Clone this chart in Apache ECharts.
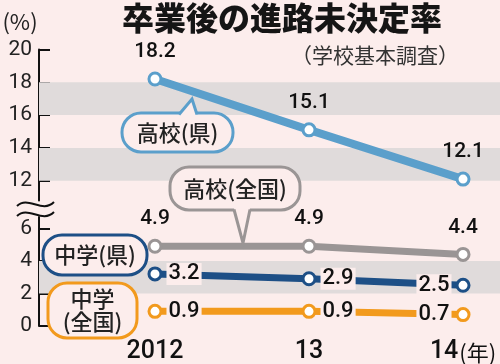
<!DOCTYPE html>
<html><head><meta charset="utf-8">
<script src="https://cdn.jsdelivr.net/npm/echarts@6/dist/echarts.min.js"></script>
<style>html,body{margin:0;padding:0;background:#fcedec;}#c{width:500px;height:364px;}</style>
</head><body><div id="c"></div>
<script>
// ---- data ----
const years = [2012, 2013, 2014];
const yearLabels = ['2012', '13', '14'];
const hsPref = [18.2, 15.1, 12.1];   // 高校(県)
const hsNat  = [4.9, 4.9, 4.4];      // 高校(全国)
const jhPref = [3.2, 2.9, 2.5];      // 中学(県)
const jhNat  = [0.9, 0.9, 0.7];      // 中学(全国)
const topTicks = [12, 14, 16, 18, 20];
const bottomTicks = [0, 2, 4, 6];
const topBands = [[12, 14], [16, 18]];
const bottomBands = [[2, 4]];

const BG = '#fcedec';
const BAND = '#e0dbdb';
const C_HSP = '#5b9fcb', C_HSN = '#9a9595', C_JHP = '#1d4f86', C_JHN = '#f29a1d';
const NUM = 'Roboto, "Noto Sans", sans-serif';
const JP = '"Noto Sans CJK JP", sans-serif';

const chart = echarts.init(document.getElementById('c'), null, {renderer: 'canvas'});

function pts(vals) { return years.map((y, i) => [y, vals[i]]); }
function jhData(vals) {
  const pos = ['right', 'right', 'left'];
  return years.map((y, i) => ({value: [y, vals[i]], label: {position: pos[i]}}));
}
const xMin = 2011.247, xMax = 2014.24;

function lineSeries(name, data, color, width, xi, labelCfg) {
  return {
    name, type: 'line', xAxisIndex: xi, yAxisIndex: xi, data, z: 5,
    symbol: 'circle', symbolSize: 12,
    lineStyle: {color, width},
    itemStyle: {color: '#fff', borderColor: color, borderWidth: 3},
    label: Object.assign({show: true, color: '#111', fontFamily: NUM, fontSize: 21, fontWeight: 500}, labelCfg),
    emphasis: {disabled: true}, animation: false
  };
}
function bandSeries(xi, bands) {
  return {
    type: 'line', xAxisIndex: xi, yAxisIndex: xi, data: [], z: 1, silent: true, animation: false,
    markArea: {silent: true, itemStyle: {color: BAND}, data: bands.map(b => [{yAxis: b[0]}, {yAxis: b[1]}])}
  };
}

const yCommon = {
  type: 'value', splitLine: {show: false},
  axisLine: {show: true, lineStyle: {color: '#111', width: 2}},
  axisTick: {show: true, inside: true, length: 11, lineStyle: {color: '#111', width: 2}},
  axisLabel: {color: '#222', fontFamily: NUM, fontSize: 21, margin: 7}
};

function callout(x, y, w, h, color, lines, ptr) {
  const els = [{
    type: 'rect', z: 50, shape: {x, y, width: w, height: h, r: 19},
    style: {fill: BG, stroke: color, lineWidth: 3}
  }];
  if (ptr) {
    els.push({type: 'polygon', z: 51, shape: {points: ptr.fill}, style: {fill: BG}});
    els.push({type: 'polyline', z: 52, shape: {points: ptr.line}, style: {stroke: color, lineWidth: 3, fill: null}});
  }
  const cx = x + w / 2;
  const lh = 23;
  const y0 = y + h / 2 - (lines.length - 1) * lh / 2;
  lines.forEach((t, i) => els.push({
    type: 'text', z: 53,
    style: {text: t, x: cx, y: y0 + i * lh, align: 'center', verticalAlign: 'middle',
      font: '500 22px ' + JP, fill: '#222'}
  }));
  return els;
}

const option = {
  backgroundColor: BG,
  animation: false,
  grid: [
    {left: 39, right: 0, top: 49.5, height: 150.9},
    {left: 39, right: 0, top: 216.95, height: 110.55}
  ],
  xAxis: [
    {type: 'value', gridIndex: 0, min: xMin, max: xMax, show: false},
    {type: 'value', gridIndex: 1, min: xMin, max: xMax, splitLine: {show: false},
     axisLine: {show: false}, axisTick: {show: false},
     axisLabel: {customValues: years, margin: 13, color: '#111',
       formatter: v => { const i = years.indexOf(Math.round(v)); return i === 2 ? '{a|' + yearLabels[i] + '}{b|(年)}' : '{a|' + yearLabels[i] + '}'; },
       rich: {a: {fontFamily: NUM, fontSize: 25, fontWeight: 500, color: '#111'},
              b: {fontFamily: JP, fontSize: 22, color: '#111', padding: [2, 0, 0, 1]}}}}
  ],
  yAxis: [
    Object.assign({}, yCommon, {gridIndex: 0, min: 10.8, max: 20,
      axisTick: Object.assign({}, yCommon.axisTick, {customValues: topTicks}),
      axisLabel: Object.assign({}, yCommon.axisLabel, {customValues: topTicks})}),
    Object.assign({}, yCommon, {gridIndex: 1, min: 0, max: 6.7,
      axisTick: Object.assign({}, yCommon.axisTick, {customValues: bottomTicks}),
      axisLabel: Object.assign({}, yCommon.axisLabel, {customValues: bottomTicks})})
  ],
  series: [
    bandSeries(0, topBands),
    bandSeries(1, bottomBands),
    lineSeries('高校(県)', pts(hsPref), C_HSP, 8, 0, {position: 'top', distance: 9}),
    lineSeries('高校(全国)', pts(hsNat), C_HSN, 7, 1, {position: 'top', distance: 9}),
    lineSeries('中学(県)', jhData(jhPref), C_JHP, 7, 1, {distance: 4, backgroundColor: BG, padding: [0, 2], fontSize: 22}),
    lineSeries('中学(全国)', jhData(jhNat), C_JHN, 7, 1, {distance: 4, backgroundColor: BG, padding: [0, 2], fontSize: 22})
  ],
  graphic: [].concat(
    [{type: 'text', z: 60, style: {text: '卒業後の進路未決定率', x: 282, y: 18, align: 'center', verticalAlign: 'middle', font: '900 32px ' + JP, fill: '#151515'}},
     {type: 'text', z: 60, style: {text: '（学校基本調査）', x: 375, y: 55, align: 'center', verticalAlign: 'middle', font: '21px ' + JP, fill: '#333'}},
     {type: 'text', z: 60, style: {text: '(%)', x: 20, y: 22, align: 'center', verticalAlign: 'middle', font: '22px ' + JP, fill: '#222'}},
     {type: 'bezierCurve', z: 60, shape: {x1: 17, y1: 206, cpx1: 28, cpy1: 195, cpx2: 42, cpy2: 214, x2: 54, y2: 202}, style: {stroke: '#111', lineWidth: 2, fill: null}},
     {type: 'bezierCurve', z: 60, shape: {x1: 17, y1: 216, cpx1: 28, cpy1: 205, cpx2: 42, cpy2: 224, x2: 54, y2: 212}, style: {stroke: '#111', lineWidth: 2, fill: null}}
    ],
    callout(122, 113, 111, 39, C_HSP, ['高校(県)'], {fill: [[179, 116], [192, 99], [197, 116]], line: [[179, 114.5], [192, 99], [197, 114.5]]}),
    callout(170, 167, 130, 43, C_HSN, ['高校(全国)'], {fill: [[234, 208], [243, 243], [250, 208]], line: [[234, 209.5], [243, 243], [250, 209.5]]}),
    callout(43, 235, 104, 40, C_JHP, ['中学(県)']),
    callout(48, 283, 89, 55, C_JHN, ['中学', '(全国)'])
  )
};
chart.setOption(option);
</script></body></html>
